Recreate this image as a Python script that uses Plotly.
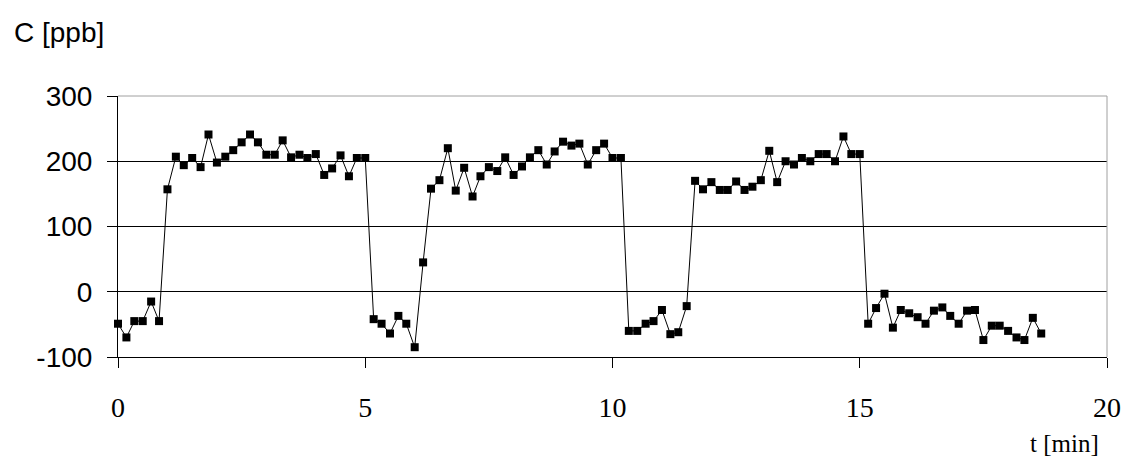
import plotly.graph_objects as go

# time [min], sampled every 10 s
t_min = [0, 0.17, 0.33, 0.5, 0.67, 0.83, 1.0, 1.17, 1.33, 1.5, 1.67, 1.83, 2.0, 2.17, 2.33, 2.5,
         2.67, 2.83, 3.0, 3.17, 3.33, 3.5, 3.67, 3.83, 4.0, 4.17, 4.33, 4.5, 4.67, 4.83, 5.0, 5.17,
         5.33, 5.5, 5.67, 5.83, 6.0, 6.17, 6.33, 6.5, 6.67, 6.83, 7.0, 7.17, 7.33, 7.5, 7.67, 7.83,
         8.0, 8.17, 8.33, 8.5, 8.67, 8.83, 9.0, 9.17, 9.33, 9.5, 9.67, 9.83, 10.0, 10.17, 10.33,
         10.5, 10.67, 10.83, 11.0, 11.17, 11.33, 11.5, 11.67, 11.83, 12.0, 12.17, 12.33, 12.5,
         12.67, 12.83, 13.0, 13.17, 13.33, 13.5, 13.67, 13.83, 14.0, 14.17, 14.33, 14.5, 14.67,
         14.83, 15.0, 15.17, 15.33, 15.5, 15.67, 15.83, 16.0, 16.17, 16.33, 16.5, 16.67, 16.83,
         17.0, 17.17, 17.33, 17.5, 17.67, 17.83, 18.0, 18.17, 18.33, 18.5, 18.67]

# concentration [ppb]
c_ppb = [-49, -70, -45, -45, -15, -45, 157, 207, 194, 205, 191, 241, 198, 207, 217, 229,
         241, 229, 210, 210, 232, 206, 210, 205, 211, 179, 189, 209, 177, 205, 205, -42,
         -49, -64, -37, -49, -85, 45, 158, 171, 220, 155, 190, 146, 177, 191, 185, 206,
         179, 192, 206, 217, 195, 215, 230, 224, 227, 195, 217, 227, 205, 205, -60,
         -60, -49, -45, -28, -65, -62, -22, 170, 157, 168, 156, 156, 169,
         156, 161, 171, 216, 168, 200, 195, 205, 200, 211, 211, 200, 238,
         211, 211, -49, -25, -3, -55, -28, -33, -39, -49, -29, -24, -37,
         -49, -29, -28, -74, -52, -52, -60, -70, -74, -40, -64]

x_ticks = [0, 5, 10, 15, 20]
y_ticks = [-100, 0, 100, 200, 300]

fig = go.Figure()
fig.add_trace(go.Scatter(
    x=t_min, y=c_ppb, mode="lines+markers",
    line=dict(color="black", width=1),
    marker=dict(symbol="square", size=8, color="black"),
    cliponaxis=False,
    showlegend=False, hoverinfo="skip",
))

fig.update_layout(
    width=1124, height=459,
    margin=dict(l=118, r=17, t=96, b=102, autoexpand=False),
    paper_bgcolor="white", plot_bgcolor="white",
    xaxis=dict(
        range=[0, 20], tickvals=x_ticks, ticktext=[str(v) for v in x_ticks],
        showgrid=False, zeroline=False, automargin=False,
        showline=True, linecolor="black", linewidth=1,
        ticks="outside", ticklen=10, tickcolor="black",
        tickfont=dict(family="Liberation Serif", size=28, color="black"),
        ticklabelstandoff=15,
    ),
    yaxis=dict(
        range=[-100, 300], tickvals=y_ticks, ticktext=[str(v) for v in y_ticks],
        showgrid=True, gridcolor="black", gridwidth=1, zeroline=False, automargin=False,
        showline=True, linecolor="black", linewidth=1,
        ticks="outside", ticklen=10, tickcolor="black",
        tickfont=dict(family="Liberation Sans", size=28, color="black"),
        ticklabelstandoff=9,
    ),
    shapes=[
        dict(type="line", xref="paper", yref="paper", x0=0, x1=1, y0=1, y1=1,
             line=dict(color="#a0a0a0", width=1), layer="above"),
        dict(type="line", xref="paper", yref="paper", x0=1, x1=1, y0=0, y1=1,
             line=dict(color="#a0a0a0", width=1), layer="above"),
    ],
    annotations=[
        dict(text="C [ppb]", xref="paper", yref="paper", x=-0.1072, y=1.245,
             xanchor="left", yanchor="middle", showarrow=False,
             font=dict(family="Liberation Sans", size=28, color="black")),
        dict(text="t [min]", xref="paper", yref="paper", x=0.994, y=-0.33,
             xanchor="right", yanchor="middle", showarrow=False,
             font=dict(family="Liberation Serif", size=25, color="black")),
    ],
)

fig.write_html("out.html")
